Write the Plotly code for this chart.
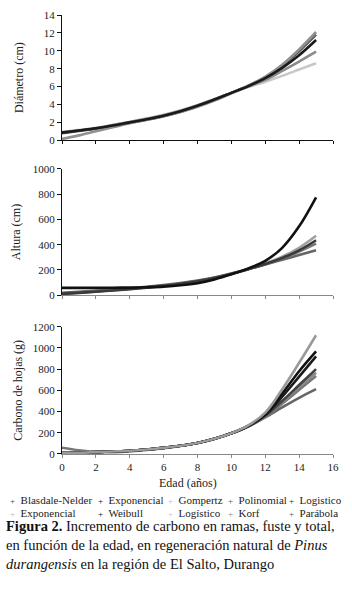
import plotly.graph_objects as go

# ---------------- data ----------------
ages = [0, 1, 2, 3, 4, 5, 6, 7, 8, 9, 10, 11, 12, 13, 14, 15]

# Diámetro (cm)
diam_a = [0.95, 1.15, 1.40, 1.70, 2.05, 2.45, 2.85, 3.35, 3.95, 4.60, 5.30, 5.95, 6.55, 7.20, 7.90, 8.60]
diam_b = [0.90, 1.10, 1.35, 1.70, 2.05, 2.40, 2.80, 3.30, 3.90, 4.60, 5.30, 6.00, 6.75, 7.75, 8.80, 9.90]
diam_c = [0.85, 1.10, 1.35, 1.65, 2.00, 2.35, 2.75, 3.25, 3.85, 4.55, 5.30, 6.05, 6.95, 8.10, 9.50, 11.2]
diam_d = [0.80, 1.05, 1.30, 1.60, 1.95, 2.30, 2.70, 3.20, 3.80, 4.50, 5.30, 6.10, 7.05, 8.35, 9.95, 11.8]
diam_e = [0.15, 0.55, 1.00, 1.45, 1.90, 2.30, 2.70, 3.15, 3.75, 4.45, 5.25, 6.10, 7.10, 8.45, 10.15, 12.1]

# Altura (cm)
alt_a = [58, 58, 58, 59, 60, 63, 68, 78, 95, 125, 165, 212, 272, 375, 545, 775]
alt_b = [15, 23, 32, 42, 52, 63, 76, 92, 112, 138, 170, 208, 252, 305, 375, 470]
alt_c = [10, 18, 27, 37, 48, 60, 74, 90, 110, 136, 168, 205, 247, 295, 355, 435]
alt_d = [12, 20, 29, 39, 50, 62, 75, 91, 111, 137, 170, 206, 245, 290, 345, 408]
alt_e = [18, 26, 35, 45, 55, 67, 80, 96, 115, 140, 172, 207, 243, 280, 318, 355]

# Carbono de hojas (g)
carb_a = [10, 12, 18, 24, 31, 43, 58, 78, 104, 143, 195, 270, 390, 610, 860, 1120]
carb_b = [10, 12, 18, 24, 31, 43, 58, 78, 104, 143, 195, 266, 375, 570, 780, 967]
carb_c = [10, 12, 18, 24, 31, 43, 58, 78, 104, 143, 195, 264, 370, 540, 730, 921]
carb_d = [10, 12, 18, 24, 31, 43, 58, 78, 104, 143, 195, 262, 360, 500, 650, 800]
carb_e = [10, 12, 18, 24, 31, 43, 58, 78, 104, 143, 195, 262, 355, 490, 630, 766]
carb_f = [59, 35, 20, 18, 25, 39, 55, 76, 103, 142, 195, 261, 350, 475, 605, 735]
carb_g = [10, 12, 18, 24, 31, 43, 58, 78, 104, 143, 195, 260, 345, 440, 530, 611]

legend_row1 = ["Blasdale-Nelder", "Exponencial", "Gompertz", "Polinomial", "Logistico"]
legend_row2 = ["Exponencial", "Weibull", "Logístico", "Korf", "Parábola"]
legend_col1 = ["#444444", "#111111", "#bbbbbb", "#555555", "#222222"]
legend_col2 = ["#bbbbbb", "#111111", "#c8c8c8", "#888888", "#555555"]

x_ticks = [0, 2, 4, 6, 8, 10, 12, 14, 16]

# ---------------- figure ----------------
FONT = "Liberation Serif, Times New Roman, serif"
fig = go.Figure()

panel1 = [(diam_a, "#c8c8c8"), (diam_b, "#8a8a8a"), (diam_d, "#5a5a5a"), (diam_e, "#909090"), (diam_c, "#1a1a1a")]
panel2 = [(alt_b, "#a0a0a0"), (alt_d, "#777777"), (alt_e, "#666666"), (alt_c, "#3a3a3a"), (alt_a, "#111111")]
panel3 = [(carb_g, "#666666"), (carb_f, "#777777"), (carb_e, "#8a8a8a"), (carb_d, "#444444"),
          (carb_c, "#1a1a1a"), (carb_b, "#111111"), (carb_a, "#9a9a9a")]

for ys, col in panel1:
    fig.add_trace(go.Scatter(x=ages, y=ys, mode="lines", line=dict(color=col, width=2.6, shape="spline"),
                             showlegend=False, xaxis="x", yaxis="y"))
for ys, col in panel2:
    fig.add_trace(go.Scatter(x=ages, y=ys, mode="lines", line=dict(color=col, width=2.6, shape="spline"),
                             showlegend=False, xaxis="x2", yaxis="y2"))
for ys, col in panel3:
    fig.add_trace(go.Scatter(x=ages, y=ys, mode="lines", line=dict(color=col, width=2.6, shape="spline"),
                             showlegend=False, xaxis="x3", yaxis="y3"))

# plot area: x 62..333 px, y 9..454 px
H = 445.0
def py(p):
    return (454 - p) / H
def px(p):
    return (p - 62) / 271.0

common_x = dict(range=[0, 16], tickvals=x_ticks, ticks="outside", ticklen=3, tickwidth=1,
                showgrid=False, zeroline=False, showline=True, linewidth=1,
                tickfont=dict(family=FONT, size=11, color="#222"))
common_y = dict(ticks="outside", ticklen=4, tickwidth=1, showgrid=False, zeroline=False,
                showline=True, linewidth=1, linecolor="#111", tickcolor="#111",
                tickfont=dict(family=FONT, size=11, color="#222"))

fig.update_layout(
    width=352, height=605,
    margin=dict(l=62, r=19, t=9, b=151),
    paper_bgcolor="white", plot_bgcolor="white",
    font=dict(family=FONT, size=11, color="#222"),
    showlegend=False,
    xaxis=dict(common_x, domain=[0, 1], anchor="y", showticklabels=False, linecolor="#111", tickcolor="#111"),
    yaxis=dict(common_y, domain=[py(136), 1.0], anchor="x", range=[0, 14], dtick=2,
               title=dict(text="Diámetro (cm)", font=dict(family=FONT, size=12), standoff=17)),
    xaxis2=dict(common_x, domain=[0, 1], anchor="y2", showticklabels=False, linecolor="#888", tickcolor="#888"),
    yaxis2=dict(common_y, domain=[py(293), py(165)], anchor="x2", range=[0, 1000], dtick=200,
                title=dict(text="Altura (cm)", font=dict(family=FONT, size=12), standoff=9)),
    xaxis3=dict(common_x, domain=[0, 1], anchor="y3", linecolor="#888", tickcolor="#888"),
    yaxis3=dict(common_y, domain=[0, py(325)], anchor="x3", range=[0, 1200], dtick=200,
                title=dict(text="Carbono de hojas (g)", font=dict(family=FONT, size=12), standoff=7)),
)

annotations = [dict(xref="paper", yref="paper", x=px(188), y=py(483), xanchor="center", yanchor="middle",
                    showarrow=False, font=dict(family=FONT, size=12, color="#222"), text="Edad (años)")]

col_px = [8, 96, 166, 226, 287]
for i in range(5):
    annotations.append(dict(
        xref="paper", yref="paper", x=px(col_px[i]), y=py(501), xanchor="left", yanchor="middle",
        showarrow=False, font=dict(family=FONT, size=11, color="#222"),
        text='<span style="color:%s;font-size:9px">+</span>  %s' % (legend_col1[i], legend_row1[i])))
    annotations.append(dict(
        xref="paper", yref="paper", x=px(col_px[i]), y=py(514), xanchor="left", yanchor="middle",
        showarrow=False, font=dict(family=FONT, size=11, color="#222"),
        text='<span style="color:%s;font-size:9px">+</span>  %s' % (legend_col2[i], legend_row2[i])))

caption = [
    "<b>Figura 2.</b> Incremento de carbono en ramas, fuste y total,",
    "en función de la edad, en regeneración natural de <i>Pinus</i>",
    "<i>durangensis</i> en la región de El Salto, Durango",
]
annotations.append(dict(xref="paper", yref="paper", x=px(4), y=py(546), xanchor="left", yanchor="middle",
                        align="left", showarrow=False, font=dict(family=FONT, size=14.5, color="#111"),
                        text="<br>".join(caption)))

fig.update_layout(annotations=annotations)
fig.write_html("out.html", config={"displayModeBar": False},
               post_script="document.body.style.margin='0px';")
